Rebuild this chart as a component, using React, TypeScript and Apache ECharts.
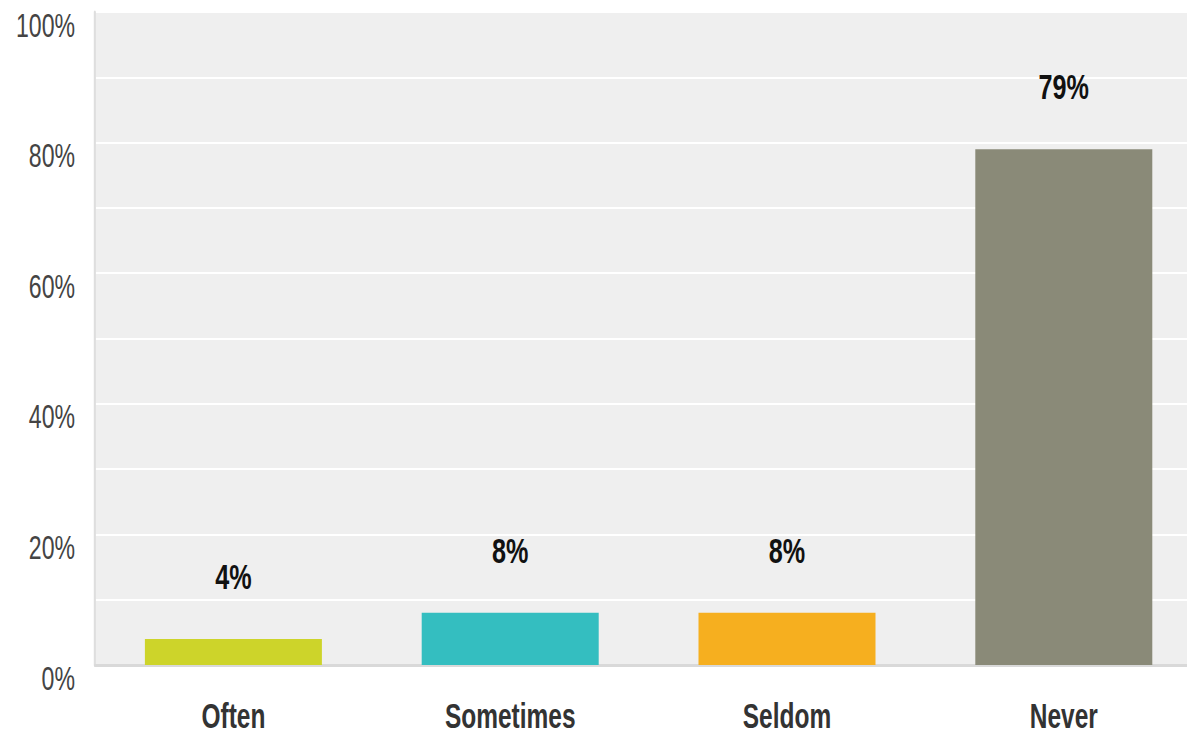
import React, { useEffect, useRef } from "react";
import * as echarts from "echarts";

const categories = ["Often", "Sometimes", "Seldom", "Never"];
const values = [4, 8, 8, 79];
const barColors = ["#cdd42a", "#34bec0", "#f6af1f", "#8a8a78"];
const yTicks = [0, 20, 40, 60, 80, 100];

const FONT = "'Liberation Sans', Arial, sans-serif";
// horizontal compression of the whole drawing (reference uses condensed type)
const S = 0.7;
const W = 1187;
const H = 737;

export default function App() {
  const ref = useRef<HTMLDivElement>(null);
  useEffect(() => {
    if (!ref.current) return;
    const chart = echarts.init(ref.current, undefined, { renderer: "svg" });
    chart.setOption({
      animation: false,
      grid: {
        left: 95 / S,
        right: -15 / S,
        top: 12,
        bottom: 72,
        show: true,
        backgroundColor: "#efefef",
        borderWidth: 0,
        containLabel: false,
        outerBoundsMode: "none",
      },
      xAxis: {
        type: "category",
        data: categories,
        axisLine: { show: true, lineStyle: { color: "#d9d9d9", width: 3 } },
        axisTick: { show: false },
        axisLabel: {
          margin: 36,
          fontFamily: FONT,
          fontWeight: "bold",
          fontSize: 35,
          lineHeight: 30,
          color: "#333",
        },
      },
      yAxis: {
        type: "value",
        min: 0,
        max: 100,
        interval: 10,
        axisLine: { show: true, lineStyle: { color: "#dedede", width: 3 } },
        axisTick: { show: false },
        splitLine: { show: true, lineStyle: { color: "#ffffff", width: 2 } },
        axisLabel: {
          margin: 20 / S,
          fontFamily: FONT,
          fontSize: 33,
          color: "#444",
          verticalAlign: "top",
          lineHeight: 26,
          formatter: (v: number) => (yTicks.includes(v) ? v + "%" : ""),
        },
      },
      series: [
        {
          type: "bar",
          data: values.map((v, i) => ({ value: v, itemStyle: { color: barColors[i] } })),
          barWidth: 177 / S,
          label: {
            show: true,
            position: "top",
            distance: 44,
            fontFamily: FONT,
            fontWeight: "bold",
            fontSize: 36,
            lineHeight: 36,
            color: "#111",
            formatter: "{c}%",
          },
        },
      ],
    });
    return () => chart.dispose();
  }, []);
  return (
    <div
      style={{
        position: "fixed",
        left: 0,
        top: 0,
        width: W,
        height: H,
        overflow: "hidden",
        background: "#fff",
      }}
    >
      <div
        ref={ref}
        style={{
          width: W / S,
          height: H,
          transform: `scaleX(${S})`,
          transformOrigin: "0 0",
        }}
      />
    </div>
  );
}
